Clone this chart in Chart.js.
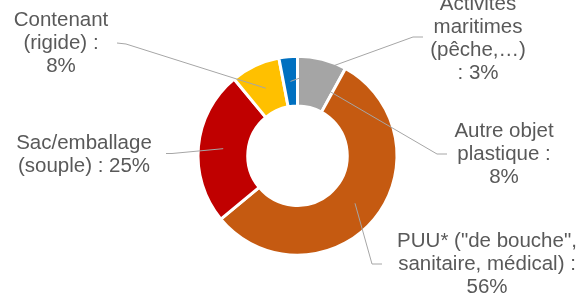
<!DOCTYPE html>
<html>
<head>
<meta charset="utf-8">
<script src="https://cdn.jsdelivr.net/npm/chart.js@4/dist/chart.umd.min.js"></script>
<style>
  html, body { margin: 0; padding: 0; background: #fff; }
  #wrap { width: 581px; height: 304px; }
</style>
</head>
<body>
<div id="wrap"><canvas id="chart" width="581" height="304"></canvas></div>
<script>
// data
const categories = ['Autre objet\nplastique', 'PUU* ("de bouche",\nsanitaire, médical)', 'Sac/emballage\n(souple)', 'Contenant\n(rigide)', 'Activités\nmaritimes\n(pêche,…)'];
const values = [8, 56, 25, 8, 3];
const separators = [' :\n', ' :\n', ' : ', ' :\n', '\n: '];
const colors = ['#A5A5A5', '#C55A11', '#C00000', '#FFC000', '#0070C0'];

// where each label sits (center of first line), elbow of the leader and its end near the text
const labelPos = [[504, 131.5], [487, 241], [84, 143], [61, 20.5], [478, 4]];
const elbows = [[437, 154], [372, 264], [172, 153.5], [126, 44], [413, 37]];
const lineEnds = [[447, 154], [382, 264], [166, 153.5], [117, 43], [423, 37]];

const textColor = '#595959';
const leaderColor = '#A6A6A6';

const labelPlugin = {
    id: 'labelPlugin',
    afterDatasetsDraw(chart) {
        const ctx = chart.ctx;
        const arcs = chart.getDatasetMeta(0).data;
        ctx.save();
        // leader lines from arc centroid
        ctx.strokeStyle = leaderColor;
        ctx.lineWidth = 1;
        arcs.forEach((arc, i) => {
            const p = arc.tooltipPosition();
            ctx.beginPath();
            ctx.moveTo(p.x, p.y);
            ctx.lineTo(elbows[i][0], elbows[i][1]);
            ctx.lineTo(lineEnds[i][0], lineEnds[i][1]);
            ctx.stroke();
        });
        // text
        ctx.fillStyle = textColor;
        ctx.font = '20.5px "Liberation Sans", Arial, sans-serif';
        ctx.textAlign = 'center';
        ctx.textBaseline = 'middle';
        categories.forEach((cat, i) => {
            const txt = cat + separators[i] + values[i] + '%';
            const lines = txt.split('\n');
            lines.forEach((ln, j) => {
                ctx.fillText(ln, labelPos[i][0], labelPos[i][1] + j * 23);
            });
        });
        ctx.restore();
    }
};

const ctxChart = document.getElementById('chart').getContext('2d');
const myChart = new Chart(ctxChart, {
    type: 'doughnut',
    data: {
        labels: categories,
        datasets: [{
            data: values,
            backgroundColor: colors,
            borderColor: '#ffffff',
            borderWidth: 3
        }]
    },
    options: {
        responsive: false,
        animation: false,
        cutout: '50%',
        layout: {
            padding: { left: 196.5, right: 182.5, top: 54.7, bottom: 47.3 }
        },
        plugins: {
            legend: { display: false },
            tooltip: { enabled: false }
        }
    },
    plugins: [labelPlugin]
});
</script>
</body>
</html>
